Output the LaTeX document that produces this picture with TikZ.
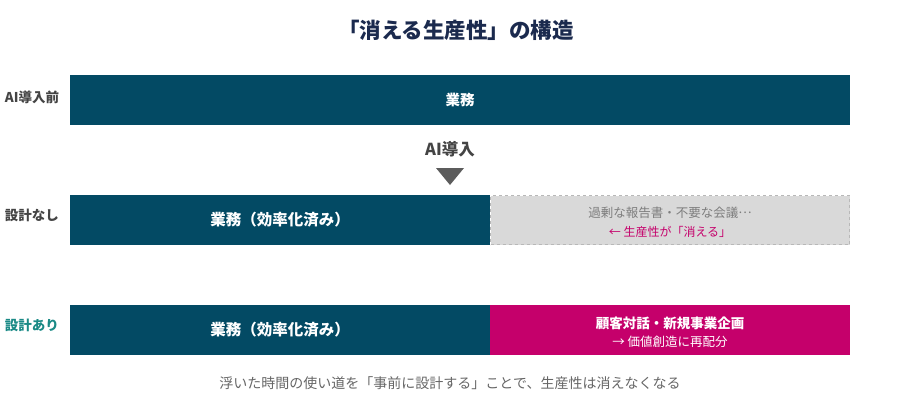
\documentclass[tikz,border=0pt]{standalone}
\usepackage{fontspec}
\setmainfont{Noto Sans CJK JP}
\definecolor{navy}{HTML}{1B2A4E}
\definecolor{bar}{HTML}{034A64}
\definecolor{mag}{HTML}{C5006B}
\definecolor{lbl}{HTML}{444444}
\definecolor{teal}{HTML}{1A8A86}
\definecolor{ghost}{HTML}{D9D9D9}
\definecolor{ghostline}{HTML}{B8B8B8}
\definecolor{cap}{HTML}{666666}
\tikzset{
  barbox/.style={fill=bar, draw=none, inner sep=0pt, text=white, font=\fontsize{15.5}{15.5}\selectfont\bfseries},
  rowlabel/.style={text=lbl, font=\fontsize{13.5}{13.5}\selectfont\bfseries, anchor=center},
}
\begin{document}
\begin{tikzpicture}[x=1pt,y=-1pt]
\useasboundingbox (0,0) rectangle (900,400);
\fill[white] (0,0) rectangle (900,400);
\node[text=navy, font=\fontsize{21.5}{21.5}\selectfont\bfseries] (title) at (456,30) {「消える生産性」の構造};
% row 1
\node[barbox, minimum width=780pt, minimum height=50pt, font=\fontsize{14.5}{14.5}\selectfont\bfseries] (b1) at (460,100) {業務};
\node[rowlabel] (l1) at (32,97) {AI導入前};
% arrow
\node[text=lbl, font=\fontsize{16.5}{16.5}\selectfont\bfseries] (ai) at (450,149) {AI導入};
\fill[cap!90!black] (436,168) -- (464,168) -- (450,185) -- cycle;
% row 2
\node[barbox, minimum width=420pt, minimum height=50pt] (b2l) at (280,220) {業務（効率化済み）};
\node[fill=ghost, draw=ghostline, dashed, line width=1pt, minimum width=359pt, minimum height=49pt, inner sep=0pt] (b2r) at (670,220) {};
\node[text=cap!85!white, font=\fontsize{12.5}{12.5}\selectfont] (b2t1) at (670,213) {過剰な報告書・不要な会議\raisebox{0.32em}{…}};
\node[text=mag, font=\fontsize{12}{12}\selectfont] (b2t2) at (670,232) {← 生産性が「消える」};
\node[rowlabel] (l2) at (32,215) {設計なし};
% row 3
\node[barbox, minimum width=420pt, minimum height=50pt] (b3l) at (280,330) {業務（効率化済み）};
\node[fill=mag, minimum width=360pt, minimum height=50pt, inner sep=0pt] (b3r) at (670,330) {};
\node[text=white, font=\fontsize{13.5}{13.5}\selectfont\bfseries] (b3t1) at (670,323) {顧客対話・新規事業企画};
\node[text=white, font=\fontsize{12.5}{12.5}\selectfont] (b3t2) at (670,342) {→ 価値創造に再配分};
\node[rowlabel, text=teal] (l3) at (32,325) {設計あり};
% caption
\node[text=cap, font=\fontsize{14}{14}\selectfont] (capt) at (450,383) {浮いた時間の使い道を「事前に設計する」ことで、生産性は消えなくなる};
\end{tikzpicture}
\end{document}
